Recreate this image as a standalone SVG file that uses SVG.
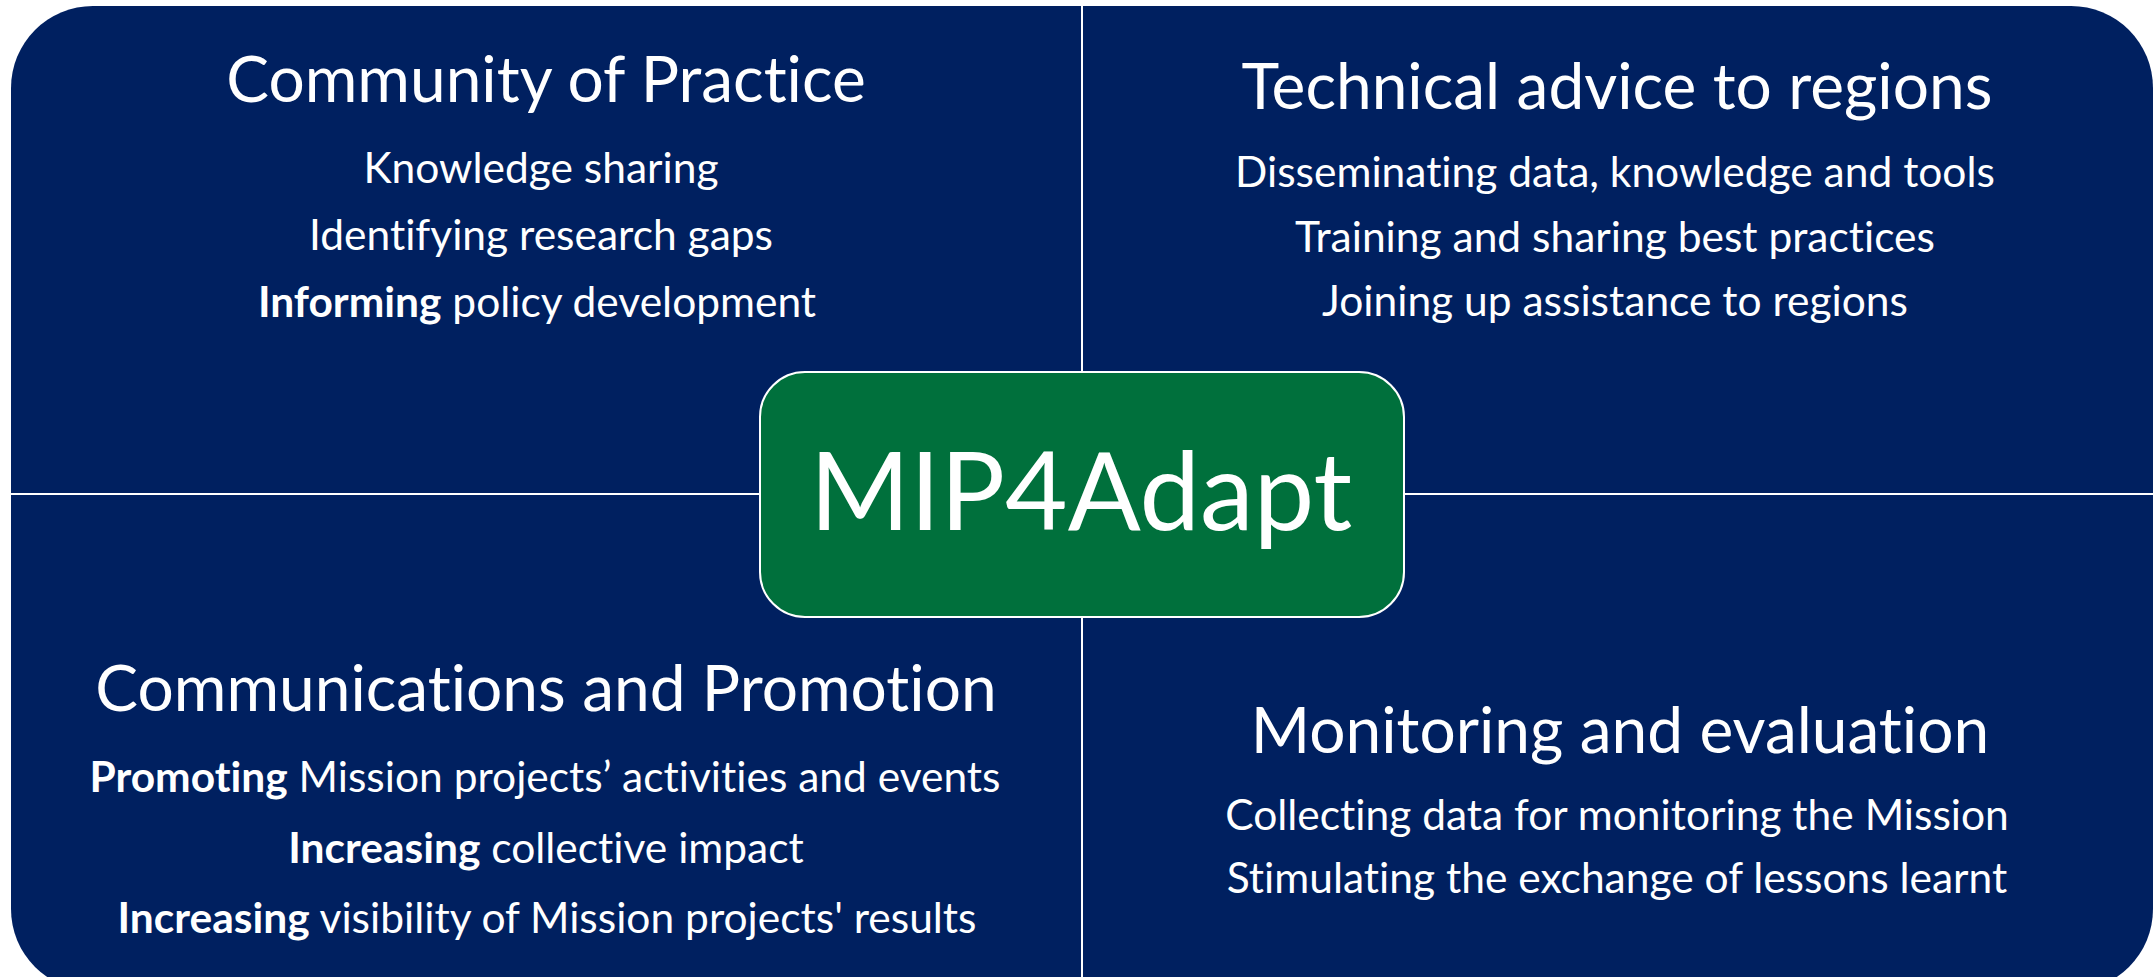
<svg xmlns="http://www.w3.org/2000/svg" width="2155" height="977" viewBox="0 0 2155 977">
  <style>
    text { font-family: Lato, "Open Sans", "Liberation Sans", sans-serif; fill: #ffffff; text-anchor: middle; font-variant-ligatures: none; font-feature-settings: "liga" 0, "dlig" 0; }
    .title { font-size: 64px; }
    .body { font-size: 42.5px; }
    .b { font-weight: 700; }
    .center { font-size: 108px; }
    .divider { stroke: #ffffff; stroke-width: 2; fill: none; }
  </style>
  <rect width="2155" height="977" fill="#ffffff"/>
  <g id="background">
    <rect x="11" y="6" width="2142" height="985" rx="82" ry="82" fill="#002060"/>
  </g>
  <g id="connectors">
    <line class="divider" x1="1082" y1="6" x2="1082" y2="977"/>
    <line class="divider" x1="11" y1="494" x2="2153" y2="494"/>
  </g>
  <g id="community-of-practice">
    <text class="title" x="546" y="102">Community of Practice</text>
    <text class="body" x="541" y="183">Knowledge sharing</text>
    <text class="body" x="541" y="250">Identifying research gaps</text>
    <text class="body" x="537" y="317"><tspan class="b">Informing</tspan> policy development</text>
  </g>
  <g id="technical-advice">
    <text class="title" x="1617" y="109">Technical advice to regions</text>
    <text class="body" x="1615" y="187">Disseminating data, knowledge and tools</text>
    <text class="body" x="1615" y="252">Training and sharing best practices</text>
    <text class="body" x="1615" y="316">Joining up assistance to regions</text>
  </g>
  <g id="communications">
    <text class="title" x="546" y="711">Communications and Promotion</text>
    <text class="body" x="545" y="792"><tspan class="b">Promoting</tspan> Mission projects’ activities and events</text>
    <text class="body" x="546" y="863"><tspan class="b">Increasing</tspan> collective impact</text>
    <text class="body" x="547" y="933"><tspan class="b">Increasing</tspan> visibility of Mission projects' results</text>
  </g>
  <g id="monitoring">
    <text class="title" x="1620" y="753">Monitoring and evaluation</text>
    <text class="body" x="1617" y="830">Collecting data for monitoring the Mission</text>
    <text class="body" x="1617" y="893">Stimulating the exchange of lessons learnt</text>
  </g>
  <g id="mip4adapt">
    <rect x="760" y="372" width="644" height="245" rx="45" ry="45" fill="#00703c" stroke="#ffffff" stroke-width="2"/>
    <text class="center" x="1081" y="530">MIP4Adapt</text>
  </g>
</svg>
